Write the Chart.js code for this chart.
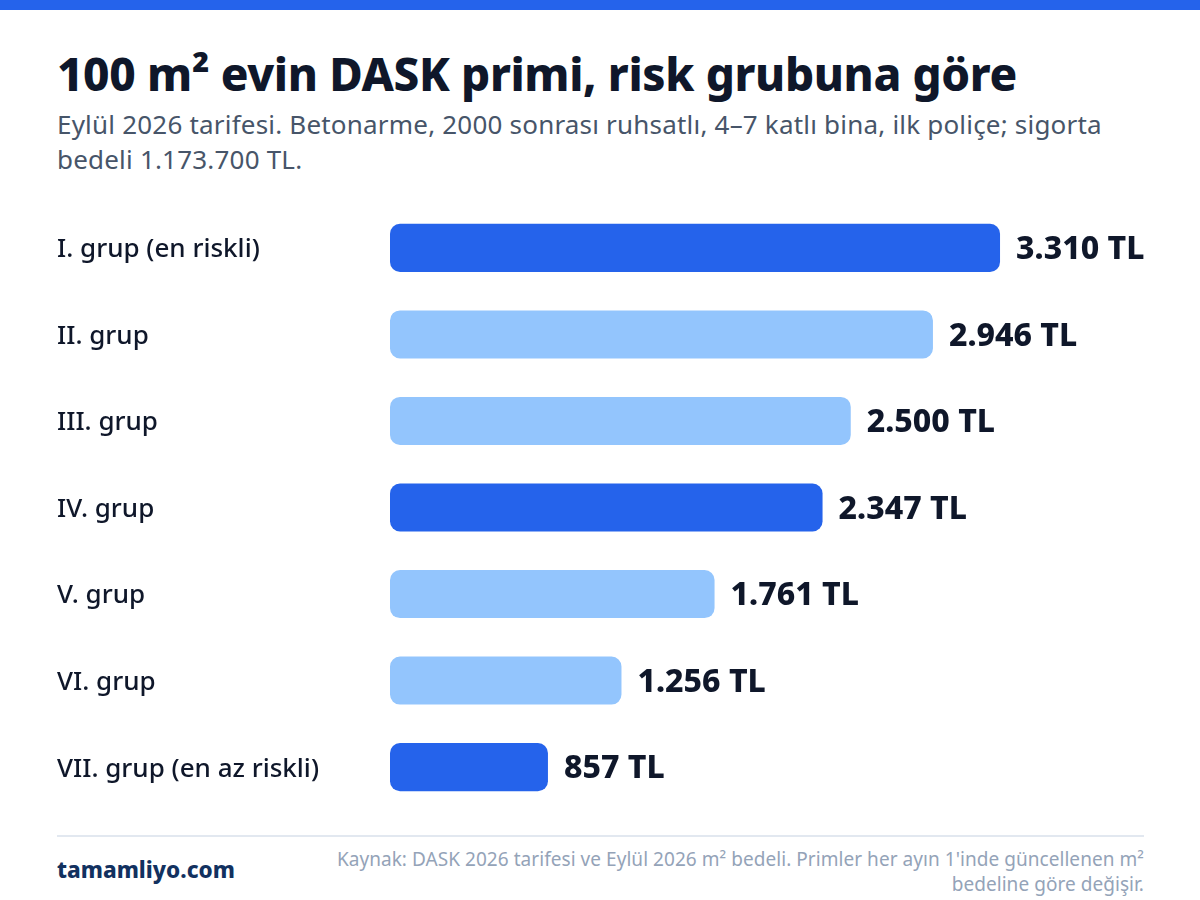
<!DOCTYPE html>
<html lang="tr">
<head>
<meta charset="utf-8">
<title>DASK primi</title>
<script src="https://cdn.jsdelivr.net/npm/chart.js@4"></script>
<style>
  html, body { margin: 0; padding: 0; background: #fff; }
  body { width: 1200px; height: 900px; position: relative; overflow: hidden; font-family: "Noto Sans", sans-serif; }
  #topbar { position: absolute; left: 0; top: 0; width: 1200px; height: 10px; background: #2563eb; }
  h1 { position: absolute; left: 57px; top: 45px; margin: 0; font-size: 45.8px; line-height: 56px; font-weight: 800; letter-spacing: -0.35px; color: #0f172a; white-space: nowrap; }
  #sub { position: absolute; left: 57px; top: 107px; width: 1060px; font-size: 26px; line-height: 35px; letter-spacing: 0.2px; color: #475569; }
  #wrap { position: absolute; left: 57px; top: 189px; width: 1143px; height: 637px; }
  #rule { position: absolute; left: 57px; top: 835px; width: 1087px; height: 2px; background: #e2e8f0; }
  #brand { position: absolute; left: 57px; top: 855px; font-size: 22.5px; line-height: 30px; font-weight: 800; color: #12315f; }
  #source { position: absolute; right: 56px; top: 847px; width: 820px; text-align: right; font-size: 19px; line-height: 24.5px; letter-spacing: 0.05px; color: #94a3b8; }
</style>
</head>
<body>
<div id="topbar"></div>
<h1>100 m² evin DASK primi, risk grubuna göre</h1>
<div id="sub">Eylül 2026 tarifesi. Betonarme, 2000 sonrası ruhsatlı, 4–7 katlı bina, ilk poliçe; sigorta bedeli 1.173.700 TL.</div>
<div id="wrap"><canvas id="chart"></canvas></div>
<div id="rule"></div>
<div id="brand">tamamliyo.com</div>
<div id="source">Kaynak: DASK 2026 tarifesi ve Eylül 2026 m² bedeli. Primler her ayın 1'inde güncellenen m² bedeline göre değişir.</div>
<script>
const groups = ["I. grup (en riskli)", "II. grup", "III. grup", "IV. grup", "V. grup", "VI. grup", "VII. grup (en az riskli)"];
const premiums = [3310, 2946, 2500, 2347, 1761, 1256, 857];
const valueLabels = ["3.310 TL", "2.946 TL", "2.500 TL", "2.347 TL", "1.761 TL", "1.256 TL", "857 TL"];
const barColors = ["#2563eb", "#93c5fd", "#93c5fd", "#2563eb", "#93c5fd", "#93c5fd", "#2563eb"];

// value text at the bar end, Chart.js has no datalabels without the plugin
const endLabels = {
  id: "endLabels",
  afterDatasetsDraw(chart) {
    const ctx = chart.ctx;
    ctx.save();
    ctx.font = "800 32px 'Noto Sans'";
    ctx.fillStyle = "#0f172a";
    ctx.textBaseline = "middle";
    chart.getDatasetMeta(0).data.forEach((bar, i) => {
      ctx.fillText(valueLabels[i], bar.x + 16, bar.y + 2);
    });
    ctx.restore();
  },
};

new Chart(document.getElementById("chart"), {
  type: "bar",
  data: {
    labels: groups,
    datasets: [{
      data: premiums,
      backgroundColor: barColors,
      borderRadius: 10,
      borderSkipped: false,
      categoryPercentage: 1,
      barPercentage: 0.555,
    }],
  },
  options: {
    indexAxis: "y",
    responsive: true,
    maintainAspectRatio: false,
    animation: false,
    plugins: { legend: { display: false }, tooltip: { enabled: false } },
    scales: {
      x: { display: false, min: 0, max: 4395 },
      y: {
        afterFit(scale) { scale.width = 333; },
        grid: { display: false },
        border: { display: false },
        ticks: { color: "#0f172a", font: { size: 26, weight: "500", family: "Noto Sans" }, crossAlign: "far", padding: 0, labelOffset: 2 },
      },
    },
  },
  plugins: [endLabels],
});
</script>
</body>
</html>
